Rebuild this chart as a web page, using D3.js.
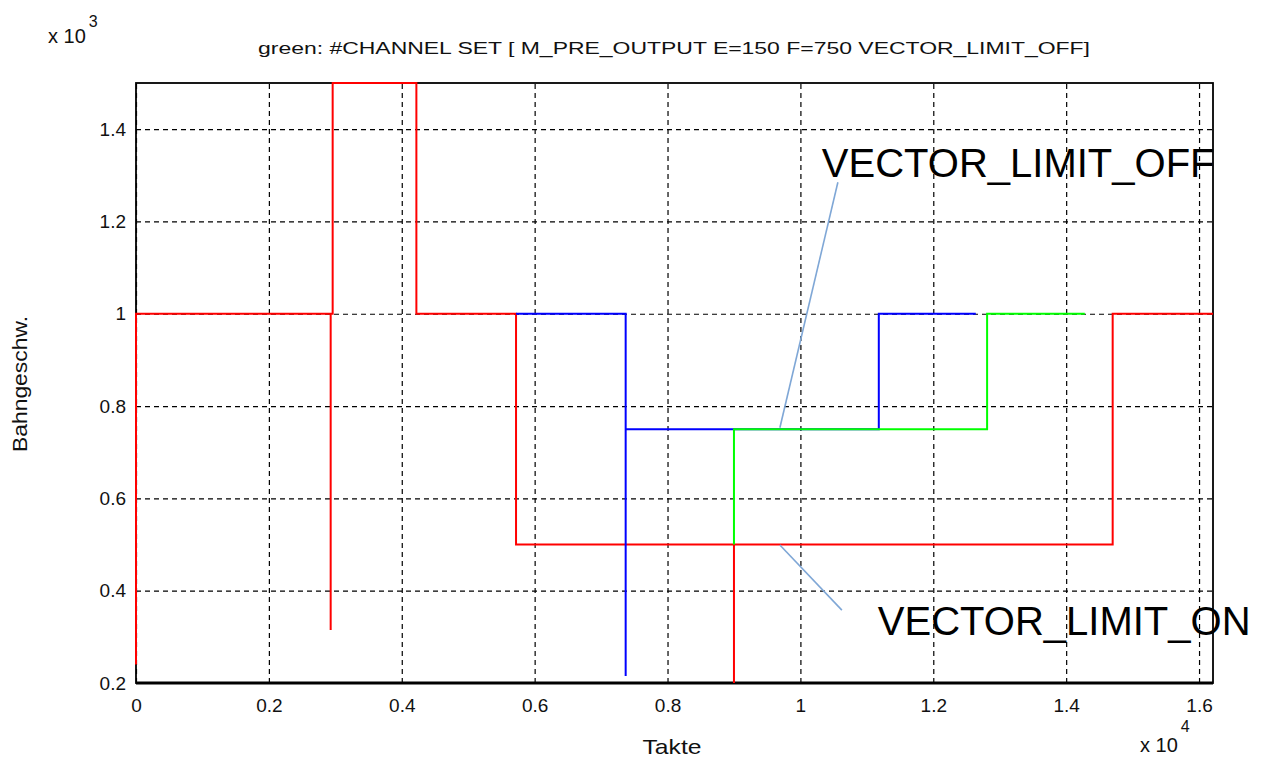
<!DOCTYPE html>
<html><head><meta charset="utf-8">
<script src="https://cdn.jsdelivr.net/npm/d3@7"></script>
<style>html,body{margin:0;padding:0;background:#fff;}svg{display:block;font-family:"Liberation Sans",Arial,sans-serif;}</style>
</head><body>
<svg id="chart" width="1263" height="757"></svg>
<script>
// ---- data (x in Takte, y in Bahngeschw.) ----
const redX   = [0, 0, 2930, 2930, 2930, 2960, 2960, 4220, 4220, 5720, 5720, 9000, 9000, 9000, 14700, 14700, 16210];
const redY   = [240, 1000, 1000, 315, 1000, 1000, 1500, 1500, 1000, 1000, 500, 500, 200, 500, 500, 1000, 1000];
const blueX  = [5720, 7370, 7370, 7370, 11180, 11180, 12640];
const blueY  = [1000, 1000, 215, 750, 750, 1000, 1000];
const greenX = [9000, 9000, 12810, 12810, 14280];
const greenY = [500, 750, 750, 1000, 1000];
const xTicks = [0, 2000, 4000, 6000, 8000, 10000, 12000, 14000, 16000];
const xTickLabels = ["0", "0.2", "0.4", "0.6", "0.8", "1", "1.2", "1.4", "1.6"];
const yTicks = [200, 400, 600, 800, 1000, 1200, 1400];
const yTickLabels = ["0.2", "0.4", "0.6", "0.8", "1", "1.2", "1.4"];
const annoTexts = ["VECTOR_LIMIT_OFF", "VECTOR_LIMIT_ON"];
const annoTextX = [10323, 11166];
const annoTextY = [1297, 304];
const annoLineX1 = [10564, 9691];
const annoLineY1 = [1285, 499];
const annoLineX2 = [9691, 10624];
const annoLineY2 = [753, 358];
const title = "green: #CHANNEL SET [ M_PRE_OUTPUT E=150 F=750 VECTOR_LIMIT_OFF]";

// ---- layout ----
const L = 136, R = 1213, T = 83, B = 683;
const FONT = "Liberation Sans, Arial, sans-serif";
const svg = d3.select("#chart");
const x = d3.scaleLinear().domain([0, 16210]).range([L, R]);
const y = d3.scaleLinear().domain([200, 1500]).range([B, T]);

svg.append("clipPath").attr("id", "clip").append("rect")
  .attr("x", L - 2).attr("y", T - 1).attr("width", R - L + 4).attr("height", B - T + 2);

// grid
const grid = svg.append("g");
grid.append("g").attr("transform", `translate(0,${B})`)
  .call(d3.axisBottom(x).tickValues(xTicks).tickSize(-(B - T)).tickFormat(""))
  .call(g => g.select(".domain").remove())
  .selectAll("line").attr("stroke", "#000").attr("stroke-dasharray", "5,4").attr("stroke-width", 1.2);
grid.append("g").attr("transform", `translate(${L},0)`)
  .call(d3.axisLeft(y).tickValues(yTicks).tickSize(-(R - L)).tickFormat(""))
  .call(g => g.select(".domain").remove())
  .selectAll("line").attr("stroke", "#000").attr("stroke-dasharray", "5,4").attr("stroke-width", 1.2);

// tick labels
const xa = svg.append("g").attr("transform", `translate(0,${B})`)
  .call(d3.axisBottom(x).tickValues(xTicks).tickSize(0).tickPadding(16).tickFormat((d, i) => xTickLabels[i]));
xa.select(".domain").remove();
xa.selectAll("text").attr("font-size", 19).attr("fill", "#111").attr("font-family", FONT);
const ya = svg.append("g").attr("transform", `translate(${L},0)`)
  .call(d3.axisLeft(y).tickValues(yTicks).tickSize(0).tickPadding(10).tickFormat((d, i) => yTickLabels[i]));
ya.select(".domain").remove();
ya.selectAll("text").attr("font-size", 19).attr("fill", "#111").attr("font-family", FONT);

// frame
svg.append("rect").attr("x", L).attr("y", T).attr("width", R - L).attr("height", B - T)
  .attr("fill", "none").attr("stroke", "#000").attr("stroke-width", 1.8);
svg.append("line").attr("x1", L).attr("x2", R).attr("y1", B).attr("y2", B).attr("stroke", "#000").attr("stroke-width", 2.8);

// series
const line = d3.line().x(d => x(d[0])).y(d => y(d[1]));
const series = [
  {xs: redX, ys: redY, c: "#ff0000"},
  {xs: blueX, ys: blueY, c: "#0000ff"},
  {xs: greenX, ys: greenY, c: "#00ff00"}
];
const plot = svg.append("g").attr("clip-path", "url(#clip)");
series.forEach(s => {
  plot.append("path").datum(s.xs.map((v, i) => [v, s.ys[i]]))
    .attr("d", line).attr("fill", "none").attr("stroke", s.c).attr("stroke-width", 2);
});

// annotations
annoTexts.forEach((t, i) => {
  svg.append("line")
    .attr("x1", x(annoLineX1[i])).attr("y1", y(annoLineY1[i]))
    .attr("x2", x(annoLineX2[i])).attr("y2", y(annoLineY2[i]))
    .attr("stroke", "#7fa7d6").attr("stroke-width", 1.6);
  svg.append("text").attr("x", x(annoTextX[i])).attr("y", y(annoTextY[i]))
    .attr("font-size", 40).attr("fill", "#000").text(t);
});

// title
svg.append("text").attr("x", 674).attr("y", 54).attr("text-anchor", "middle")
  .attr("font-size", 16).attr("fill", "#111")
  .attr("textLength", 832).attr("lengthAdjust", "spacingAndGlyphs").text(title);

// axis labels
svg.append("text").attr("x", 672).attr("y", 754).attr("text-anchor", "middle")
  .attr("font-size", 21).attr("fill", "#111")
  .attr("textLength", 59).attr("lengthAdjust", "spacingAndGlyphs").text("Takte");
svg.append("text").attr("transform", "translate(27,384) rotate(-90)").attr("text-anchor", "middle")
  .attr("font-size", 20).attr("fill", "#111")
  .attr("textLength", 136).attr("lengthAdjust", "spacingAndGlyphs").text("Bahngeschw.");

// exponent labels
const e3 = svg.append("text").attr("x", 48).attr("y", 43).attr("font-size", 20).attr("fill", "#111");
e3.append("tspan").text("x 10");
e3.append("tspan").attr("dy", -16).attr("dx", 3).attr("font-size", 16).text("3");
const e4 = svg.append("text").attr("x", 1140).attr("y", 752).attr("font-size", 20).attr("fill", "#111");
e4.append("tspan").text("x 10");
e4.append("tspan").attr("dy", -20).attr("dx", 3).attr("font-size", 16).text("4");
</script>
</body></html>
